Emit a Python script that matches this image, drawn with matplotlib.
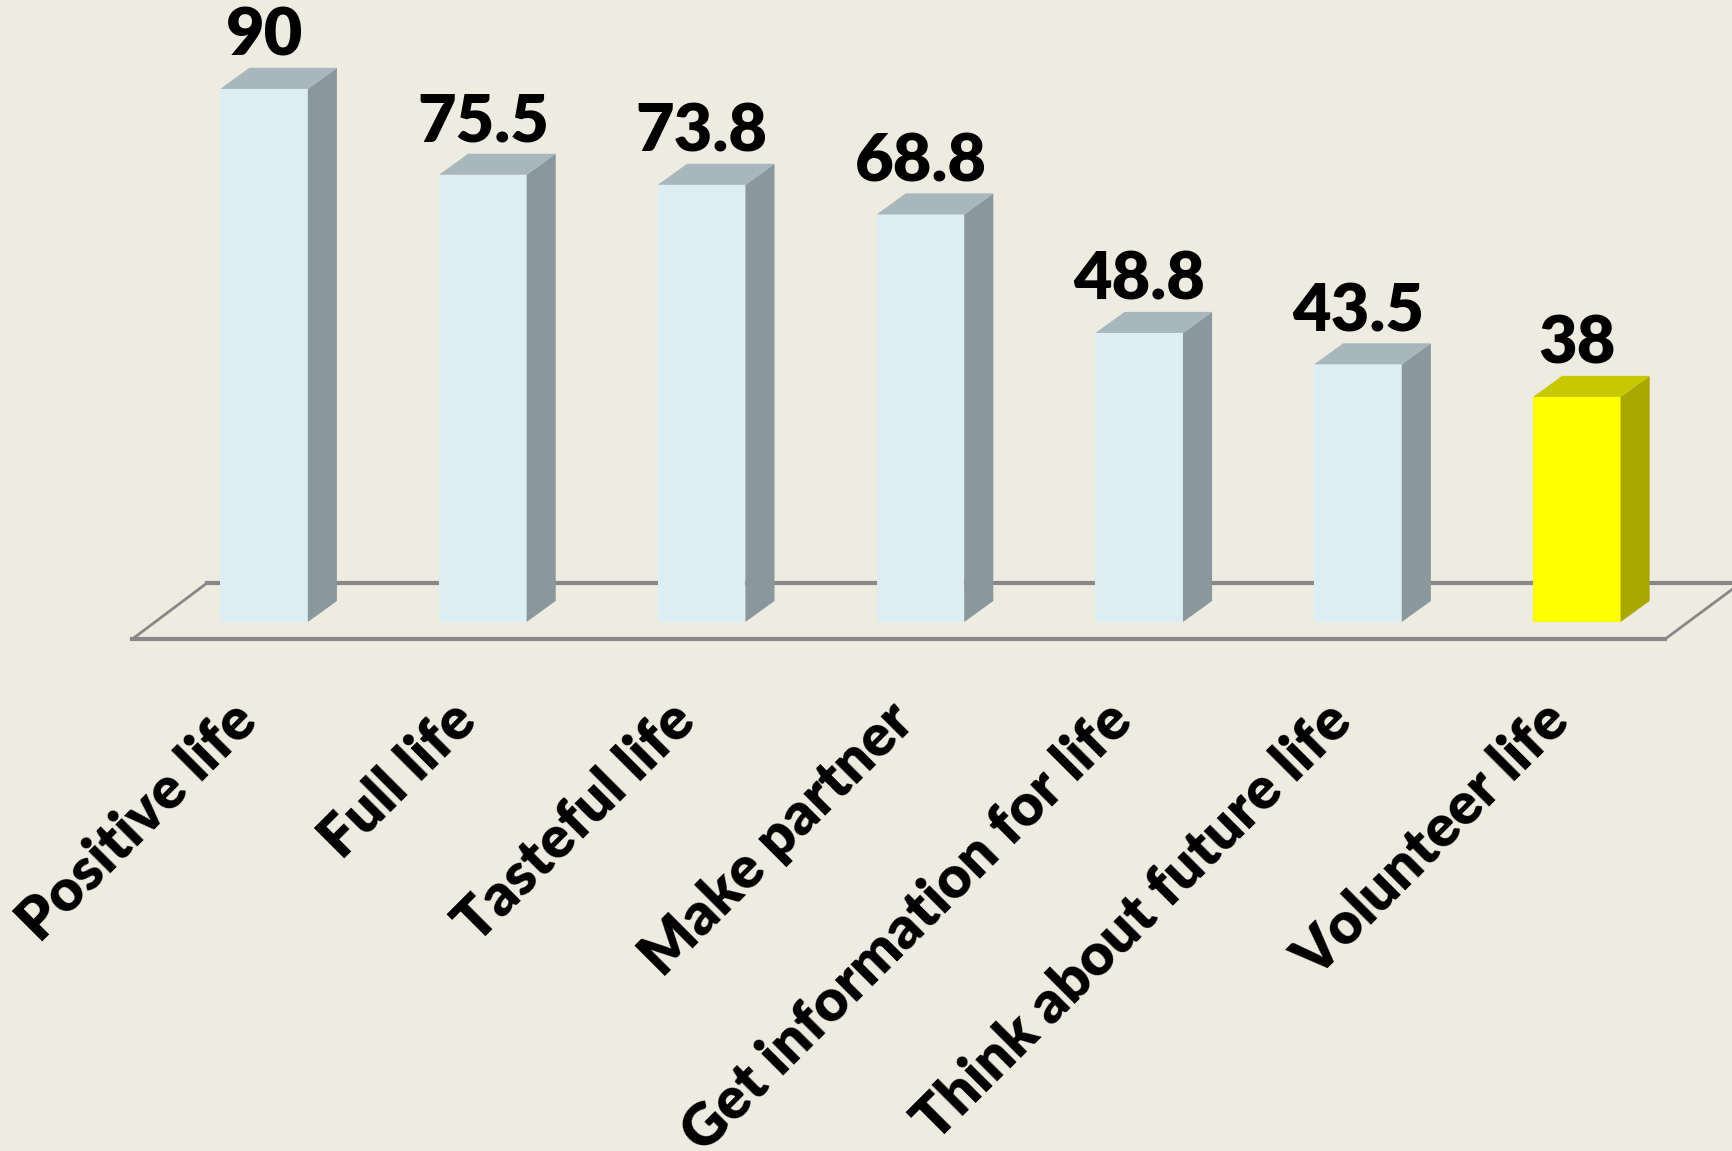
import matplotlib
matplotlib.use("Agg")
import matplotlib.pyplot as plt
from matplotlib.patches import Polygon

categories = ['Positive life', 'Full life', 'Tasteful life', 'Make partner',
              'Get information for life', 'Think about future life', 'Volunteer life']
values = [90, 75.5, 73.8, 68.8, 48.8, 43.5, 38]
value_labels = ['90', '75.5', '73.8', '68.8', '48.8', '43.5', '38']
highlight = 'Volunteer life'

plt.rcParams['font.family'] = ['Lato', 'DejaVu Sans']

bg = '#EEEBE0'
front_c, top_c, side_c = '#DCEEF4', '#A8B7BC', '#8A989D'
hl_front, hl_top, hl_side = '#FFFF00', '#C8C800', '#A8A800'

fig = plt.figure(figsize=(17.33, 11.51), dpi=100)
fig.patch.set_facecolor(bg)
ax = fig.add_axes([0, 0, 1, 1])
ax.set_facecolor(bg)
ax.set_xlim(-1.207, 6.714)
ax.set_ylim(-89.3, 105.0)
ax.axis('off')

w = 0.40      # front face width
dx = 0.133    # depth offset in x
dy = 3.55     # depth offset in y

# floor outline
floor_col = '#888888'
ax.plot([-0.26, 6.75], [6.6, 6.6], color=floor_col, lw=3, zorder=1)
ax.plot([-0.603, 6.403], [-2.9, -2.9], color=floor_col, lw=3, zorder=1)
ax.plot([-0.603, -0.26], [-2.9, 6.6], color=floor_col, lw=2, zorder=1)
ax.plot([6.403, 6.75], [-2.9, 6.6], color=floor_col, lw=2, zorder=1)

for i, (cat, v, lab) in enumerate(zip(categories, values, value_labels)):
    if cat == highlight:
        fc, tc, sc = hl_front, hl_top, hl_side
    else:
        fc, tc, sc = front_c, top_c, side_c
    x0, x1 = i - w / 2, i + w / 2
    ax.bar(i, v, width=w, color=fc, zorder=3)
    ax.add_patch(Polygon([(x1, 0), (x1 + dx, dy), (x1 + dx, v + dy), (x1, v)],
                         closed=True, facecolor=sc, edgecolor='none', zorder=3))
    ax.add_patch(Polygon([(x0, v), (x0 + dx, v + dy), (x1 + dx, v + dy), (x1, v)],
                         closed=True, facecolor=tc, edgecolor='none', zorder=3))
    ax.text(i, v + dy + 0.2, lab, ha='center', va='bottom', fontsize=48,
            fontweight='heavy', color='black', zorder=4)
    ax.text(i - 0.16, -12, cat, ha='right', va='top', rotation=45,
            rotation_mode='anchor', fontsize=42, fontweight='heavy', color='black')

fig.savefig('out.png', dpi=100, facecolor=bg)
